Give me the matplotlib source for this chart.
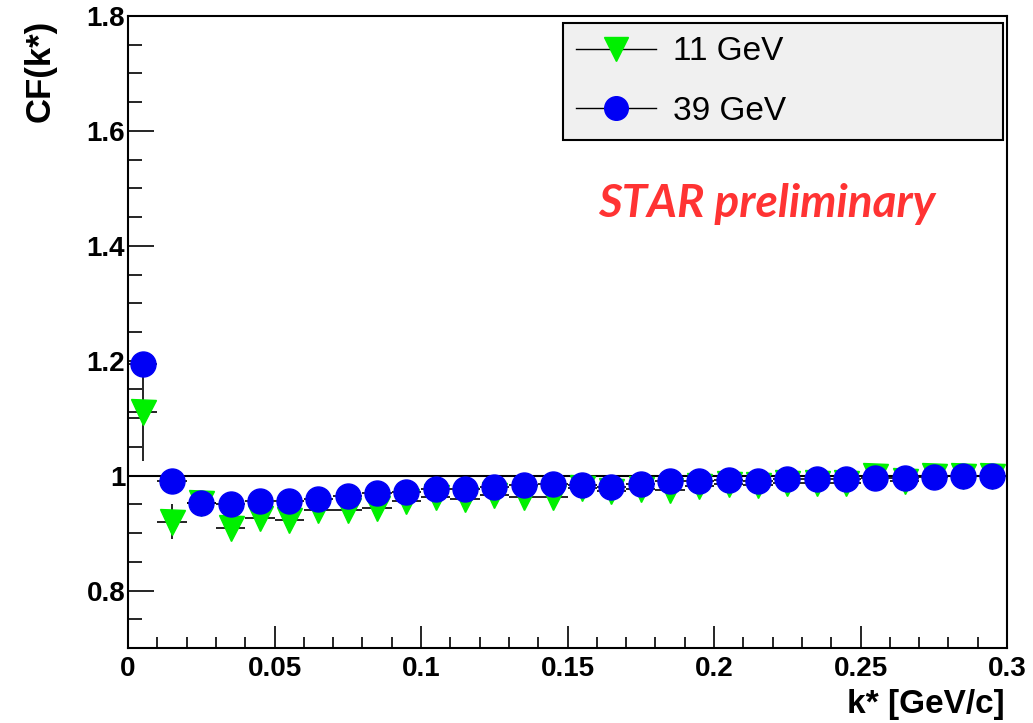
import matplotlib
matplotlib.use("Agg")
import matplotlib.pyplot as plt
from matplotlib.lines import Line2D
from matplotlib.ticker import MultipleLocator
import numpy as np

plt.rcParams['font.family'] = ['Liberation Sans', 'DejaVu Sans']

# bin centres of k* [GeV/c]
kstar = [0.005, 0.015, 0.025, 0.035, 0.045, 0.055, 0.065, 0.075, 0.085, 0.095,
         0.105, 0.115, 0.125, 0.135, 0.145, 0.155, 0.165, 0.175, 0.185, 0.195,
         0.205, 0.215, 0.225, 0.235, 0.245, 0.255, 0.265, 0.275, 0.285, 0.295]
bin_half = 0.005

# 11 GeV
cf_11 = [1.11, 0.920, 0.953, 0.908, 0.927, 0.923, 0.941, 0.941, 0.943, 0.955,
         0.962, 0.959, 0.966, 0.963, 0.963, 0.978, 0.973, 0.977, 0.975, 0.982,
         0.986, 0.983, 0.988, 0.988, 0.988, 1.000, 0.990, 1.000, 1.000, 1.000]
err_11 = [0.085, 0.030, 0.010, 0.010, 0.010, 0.008, 0.008, 0.008, 0.008, 0.006,
          0.006, 0.006, 0.005, 0.005, 0.005, 0.005, 0.005, 0.005, 0.004, 0.004,
          0.004, 0.004, 0.004, 0.004, 0.004, 0.004, 0.004, 0.004, 0.004, 0.004]

# 39 GeV
cf_39 = [1.195, 0.990, 0.953, 0.951, 0.955, 0.955, 0.960, 0.964, 0.969, 0.971,
         0.977, 0.977, 0.980, 0.983, 0.985, 0.983, 0.980, 0.985, 0.990, 0.990,
         0.993, 0.991, 0.995, 0.995, 0.995, 0.996, 0.996, 0.998, 1.000, 1.000]
err_39 = [0.012, 0.006, 0.004, 0.004, 0.004, 0.003, 0.003, 0.003, 0.003, 0.003,
          0.003, 0.003, 0.003, 0.003, 0.003, 0.003, 0.003, 0.003, 0.003, 0.003,
          0.003, 0.003, 0.003, 0.003, 0.003, 0.003, 0.003, 0.003, 0.003, 0.003]

labels = ['11 GeV', '39 GeV']

green = '#00f000'
blue = '#0000f5'

fig = plt.figure(figsize=(10.33, 7.23), dpi=100)
ax = fig.add_axes([0.1239, 0.1037, 0.851, 0.8743])

ax.axhline(1.0, color='black', lw=1.5, zorder=1)

# 11 GeV: error bars + markers
ax.errorbar(kstar, cf_11, yerr=err_11, xerr=bin_half, fmt='none',
            ecolor='black', elinewidth=1.2, capsize=0, zorder=2)
ax.plot(kstar, cf_11, ls='none', marker='v', ms=18, mfc=green,
        mec=green, zorder=3)

# 39 GeV
ax.errorbar(kstar, cf_39, yerr=err_39, xerr=bin_half, fmt='none',
            ecolor='black', elinewidth=1.2, capsize=0, zorder=4)
ax.plot(kstar, cf_39, ls='none', marker='o', ms=18, mfc=blue,
        mec=blue, zorder=5)

ax.set_xlim(0, 0.3)
ax.set_ylim(0.7, 1.8)

ax.xaxis.set_major_locator(MultipleLocator(0.05))
ax.xaxis.set_minor_locator(MultipleLocator(0.01))
ax.yaxis.set_major_locator(MultipleLocator(0.2))
ax.yaxis.set_minor_locator(MultipleLocator(0.05))

def fmt(v, pos):
    return '%g' % round(v, 4)
ax.xaxis.set_major_formatter(plt.FuncFormatter(fmt))
ax.yaxis.set_major_formatter(plt.FuncFormatter(fmt))

ax.tick_params(axis='y', which='major', direction='in', length=19, width=1.2,
               labelsize=20, pad=2)
ax.tick_params(axis='y', which='minor', direction='in', length=10, width=1.2)
ax.tick_params(axis='x', which='major', direction='in', length=16, width=1.2,
               labelsize=20, pad=6)
ax.tick_params(axis='x', which='minor', direction='in', length=8, width=1.2)
for lab in ax.get_xticklabels() + ax.get_yticklabels():
    lab.set_fontweight('bold')

for sp in ax.spines.values():
    sp.set_linewidth(1.5)

fig.text(0.039, 0.973, 'CF(k*)', rotation=90, ha='center', va='top',
         fontsize=25, fontweight='bold')
fig.text(0.973, 0.025, 'k* [GeV/c]', ha='right', va='center',
         fontsize=24, fontweight='bold')

ax.text(0.726, 0.703, 'STAR preliminary', transform=ax.transAxes,
        ha='center', va='center', color='#ff3333', fontsize=33,
        fontweight='bold', fontstyle='italic', family=['Lato', 'DejaVu Sans'])

handles = [
    Line2D([], [], color='black', lw=1, marker='v', ms=17, mfc=green,
           mec=green),
    Line2D([], [], color='black', lw=1, marker='o', ms=17, mfc=blue,
           mec=blue),
]
leg = ax.legend(handles, labels, loc='upper left',
                bbox_to_anchor=(0.495, 0.8025, 0.5005, 0.1865), mode='expand',
                fontsize=24, frameon=True, fancybox=False, framealpha=1,
                facecolor='#f0f0f0', edgecolor='black', borderpad=0.4,
                labelspacing=0.85, handlelength=2.4, handletextpad=0.5,
                borderaxespad=0)
leg.get_frame().set_linewidth(1.5)

fig.savefig('out.png', dpi=100)
